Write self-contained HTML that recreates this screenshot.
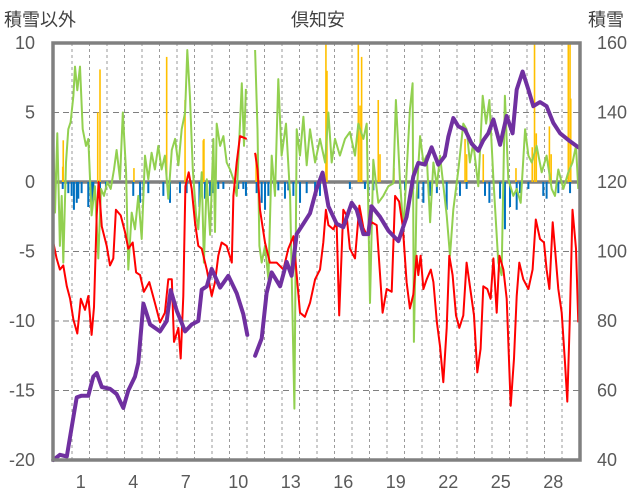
<!DOCTYPE html>
<html><head><meta charset="utf-8">
<style>
html,body{margin:0;padding:0;background:#fff;}
svg{display:block;font-family:"Liberation Sans","Noto Sans CJK JP",sans-serif;}
</style></head>
<body>
<svg id="chart" width="636" height="501" viewBox="0 0 636 501" xmlns="http://www.w3.org/2000/svg">
<text x="4" y="26" font-size="18" fill="#404040">積雪以外</text>
<text x="318" y="26" font-size="18" fill="#404040" text-anchor="middle">倶知安</text>
<text x="588" y="26" font-size="18" fill="#404040">積雪</text>
<g id="grid"></g>
<g id="bars"></g>
<g id="lines"></g>
<rect x="53" y="43" width="527" height="417" fill="none" stroke="#808080" stroke-width="3.5"/>
<g id="axes"></g>
</svg>
<script>
const leftTicks = [10, 5, 0, -5, -10, -15, -20];
const rightTicks = [160, 140, 120, 100, 80, 60, 40];
const dayLabels = [1, 4, 7, 10, 13, 16, 19, 22, 25, 28];

const tempT = [-1.07,-0.88,-0.69,-0.5,-0.3,-0.11,0.08,0.3,0.5,0.74,0.93,1.12,1.26,1.41,1.52,1.7,1.98,2.17,2.36,2.51,2.78,3.03,3.22,3.47,3.66,3.89,4.11,4.42,4.74,5.03,5.31,5.5,5.7,5.83,6.08,6.21,6.36,6.48,6.67,6.84,7.03,7.22,7.41,7.7,7.98,8.17,8.36,8.55,8.84,9.13,9.22,9.41,9.6,9.98,10.2,10.46,10.6,10.74,11.03,11.31,11.69,12.08,12.36,12.65,12.84,13.03,13.31,13.6,13.89,14.17,14.36,14.51,14.65,14.93,15.12,15.27,15.5,15.69,15.88,16.17,16.42,16.65,16.84,17.12,17.41,17.75,17.98,18.27,18.46,18.69,18.9,19.12,19.31,19.5,19.69,19.79,19.92,20.08,20.27,20.5,20.65,20.85,21.03,21.22,21.41,21.56,21.75,21.94,22.13,22.36,22.55,22.78,22.97,23.16,23.35,23.5,23.73,23.92,24.08,24.27,24.42,24.65,24.84,25.07,25.26,25.41,25.56,25.79,26.08,26.32,26.5,26.74,26.97,27.12,27.28,27.47,27.6,27.79,27.98,28.17,28.3,28.46,28.6,28.8,28.93];
const tempV = [-4.35,-5.5,-6.3,-6,-7.5,-8.4,-9.9,-10.9,-8.4,-9.2,-8.2,-11,-9,-2.4,0,-3.2,-4.6,-6,-5.5,-2,-2.4,-3.6,-4.8,-4.35,-6.5,-6.7,-7.9,-7.2,-8.7,-10.1,-9.4,-7,-7,-11.5,-10.5,-12.7,-8.2,-0.3,0.7,-0.5,-2.9,-4.6,-4.8,-6.3,-8.2,-7.2,-5.3,-4.35,-4.6,-5.8,-1,1.4,3.3,3.1,null,2.1,0.9,-2,-4.35,-5.8,-5.8,-6.3,-4.8,-3.9,-6.7,-9.4,-9.7,-8.7,-7,-6.3,-4.35,-2,-3.1,-3.4,-2.9,-9.6,-2,-2.4,-4.8,-5.5,-1.7,-3.3,-3.8,-2.9,-3.1,-9.4,-7.7,-7.9,-1,-1.4,-3.2,-7.2,-9.1,-8.1,-5.3,-6.7,-5.3,-7.7,-7,-6.3,-7.2,-10.1,-11.8,-14.4,-10.5,-5.3,-6.7,-9.6,-10.5,-9.6,-5.8,-7.9,-9.6,-13.7,-12,-7.5,-7.7,-8.4,-5.5,-9.4,-5.3,-6.3,-8.4,-16.1,-12.7,-8.2,-5.8,-7,-7.7,-6.3,-2.7,-4.1,-4.35,-6.3,-7.7,-2.9,-4.8,-7.7,-9.4,-13,-15.8,-9.4,-2,-4.8,-10.1];

const windT = [-1.07,-0.97,-0.84,-0.69,-0.59,-0.5,-0.34,-0.21,-0.08,0.08,0.17,0.3,0.46,0.61,0.8,0.93,1.12,1.31,1.5,1.66,1.83,2.02,2.21,2.4,2.55,2.74,2.9,3.09,3.22,3.41,3.6,3.79,3.98,4.17,4.36,4.55,4.74,4.93,5.12,5.31,5.5,5.7,5.89,6.08,6.27,6.46,6.59,6.74,6.9,7.09,7.22,7.41,7.54,7.7,7.89,8.08,8.17,8.27,8.46,8.65,8.84,9.03,9.22,9.41,9.6,9.7,9.83,9.94,10.2,10.46,10.6,10.71,10.84,11.03,11.22,11.41,11.6,11.79,11.98,12.23,12.46,12.71,12.84,13.03,13.22,13.41,13.6,13.89,14.17,14.46,14.65,14.84,15.03,15.31,15.6,15.88,16.17,16.36,16.65,16.84,17.03,17.22,17.5,17.79,18.08,18.36,18.51,18.74,18.93,19.12,19.31,19.46,19.54,19.69,19.89,20.08,20.27,20.46,20.65,20.85,21.03,21.41,21.6,21.79,22.08,22.36,22.55,22.74,22.93,23.22,23.47,23.66,23.85,24.08,24.36,24.55,24.74,24.93,25.22,25.41,25.64,25.89,26.08,26.27,26.55,26.84,27.12,27.41,27.6,27.79,28.08,28.36,28.6,28.8,28.93];
const windV = [3.3,-2.2,3.5,-4.6,-1,-5.8,1.4,3.8,4.3,6.2,8.3,6.6,8.3,3.8,2.6,3.1,-2.4,-0.3,-5.5,-0.5,-1,0,-0.5,0.9,2.3,0.2,5,0.7,-6.3,-2.2,-3.4,-1,-4.1,1.9,0.2,2.1,0.9,2.6,0.9,1.9,-1.2,2.3,3.1,1.2,3.8,5,9.5,6.2,0.9,-2.4,-3.4,0.7,-5.8,0.2,-3.8,3.1,-3.6,4.2,2.6,3.3,1.4,0.9,0.2,-1,4.2,7.1,2.6,6.7,null,9.5,3.8,-4.6,-5.8,-4.6,-7,1.9,-1,7.4,1.9,4.2,-1,-16.3,3.8,1.9,4.7,1.2,3.8,1.4,3.1,1.4,5,1.4,3.1,1.9,3.1,3.6,1.9,4.2,3.1,4.2,-8.7,1.6,-1.5,-1,-0.3,-0.1,5.9,0.2,-3.4,0.7,5.2,7.1,-11.5,-1,3.3,1.4,1.9,-2.9,1.4,-0.3,1.9,-2.4,-5.3,-2,0.9,4.2,3.8,1.4,2.8,-0.3,6.2,4.2,5.9,0.2,-5.8,-6.7,6.2,0.2,-1,-0.5,-1.5,3.8,1.9,1.4,2.6,0.7,1.9,-0.5,-1,0.9,-0.5,0.7,1.4,2.6,-0.5];

const snowT = [-1.07,-0.69,-0.3,0,0.27,0.55,0.93,1.22,1.41,1.7,2.17,2.55,2.93,3.22,3.6,3.79,4.08,4.46,5.03,5.41,5.64,5.98,6.46,6.84,7.22,7.41,7.7,7.98,8.46,8.93,9.41,9.79,10.02,10.25,10.46,10.84,11.12,11.41,11.89,12.27,12.55,12.84,13.22,13.6,13.98,14.32,14.65,15.12,15.5,15.98,16.27,16.65,16.93,17.12,17.6,18.08,18.65,19.12,19.5,19.79,20.17,20.55,20.93,21.31,21.5,21.79,22.08,22.46,22.84,23.22,23.5,23.79,24.08,24.46,24.84,25.18,25.41,25.75,26.08,26.36,26.74,27.12,27.5,27.89,28.46,28.93];
const snowV = [40,41.5,41,50,58,58.5,58.5,64,65,61,60.5,59,55,60,64,68,85,79,77,80,88.9,83,77,79,80,89,90,95,89.6,93,88,82,76,null,70,75,88,94,90,97,93,105,108,111,118,122.7,113,108,107,114,112,105,105,113,110,106,103,110,121.6,125.5,125,130,125,127.5,133,138.4,136,135,131,129,132,134,138,130.7,139,134,146.6,151.8,146.6,141.8,143,141.8,137,134,131.7,130];

const precipT = [-0.53,-0.5,1.47,1.6,3.54,5.41,6.46,7.5,7.54,10.52,14.51,14.57,16.36,16.46,16.55,17.5,17.6,18.4,22.46,22.55,23.5,25.37,26.3,26.43,26.53,27.28,27.38,28.36,28.46,28.5];
const precipV = [1.1,3,5,8.1,1,9,5.9,3,3.1,2,10,8,10,5.5,9,5.9,2,1,3.1,2,2,1,2.5,10,3.5,4,2,10,10,6];

const negT = [-0.53,-0.21,-0.02,0.11,0.27,0.36,0.55,0.93,1.12,1.22,1.6,1.94,3.5,3.89,4.08,4.36,5.22,5.6,6.17,6.55,7.28,7.6,8.08,7.89,8.36,8.65,9.5,9.79,9.94,10.55,10.84,11.03,11.22,11.79,12.17,12.36,12.65,13.03,13.41,13.89,14.17,15.88,16.74,16.93,17.22,18.74,19.03,19.5,19.79,20.08,20.46,20.85,21.41,22.17,22.55,23.6,23.85,24.46,24.74,25.03,25.41,25.6,26.08,26.93,27.12,27.79,28.46];
const negV = [-0.5,-0.8,-1,-2,-1.5,-1.2,-0.8,-1.8,-2,-1.3,-0.8,-0.5,-1,-1.5,-1,-0.8,-1,-1.5,-0.8,-0.8,-1.8,-1.2,-0.8,-1,-0.5,-0.5,-0.5,-0.5,-1,-0.8,-1.5,-2,-1,-0.6,-1.2,-0.6,-1,-1.5,-0.8,-0.6,-1,-0.5,-0.5,-0.8,-0.6,-0.5,-0.6,-0.5,-1.2,-1.5,-1,-0.8,-2,-1,-0.5,-1,-1.5,-1.2,-3.4,-1.8,-2,-0.8,-0.5,-1,-1.2,-0.8,-0.8];

const NS = 'http://www.w3.org/2000/svg';
const X0 = 53, X1 = 580, Y0 = 43, Y1 = 460;
function xS(t){ return 72 + 17.5 * t; }
function yL(v){ return Y0 + (10 - v) * (Y1 - Y0) / 30; }
function yR(v){ return Y0 + (160 - v) * (Y1 - Y0) / 120; }
function mk(tag, attrs, parent){ const e = document.createElementNS(NS, tag); for (const k in attrs) e.setAttribute(k, attrs[k]); parent.appendChild(e); return e; }

const grid = document.getElementById('grid');
for (let d = 0; d <= 28; d++) {
  const x = xS(d);
  const gl = mk('line', {x1:x, x2:x, y1:Y0, y2:Y1, stroke:'#9a9a9a', 'stroke-width':1, 'stroke-dasharray':'3,3'}, grid);
  
  
}
leftTicks.forEach(v => {
  if (v === 10 || v === -20) return;
  const y = yL(v);
  const hl = mk('line', {x1:X0, x2:X1, y1:y, y2:y, stroke: v===0?'#808080':'#7f7f7f', 'stroke-width': v===0?3.5:1, 'stroke-dasharray': v===0?'none':'6,4'}, grid);
  
  
});

const bars = document.getElementById('bars');
precipT.forEach((t, i) => {
  const y = yL(precipV[i]);
  const r = mk('rect', {x:xS(t)-0.8, y:y, width:1.6, height:yL(0)-y, fill:'#FFC000'}, bars);
  
  
});
negT.forEach((t, i) => {
  const r = mk('rect', {x:xS(t)-1, y:yL(0), width:2, height:yL(negV[i])-yL(0), fill:'#0070C0'}, bars);
  
  
});

function pathFrom(ts, vs, yf){
  let d = '', pen = false;
  ts.forEach((t, i) => {
    if (vs[i] === null) { pen = false; return; }
    d += (pen ? 'L' : 'M') + xS(t).toFixed(1) + ' ' + yf(vs[i]).toFixed(1) + ' ';
    pen = true;
  });
  return d;
}
const lines = document.getElementById('lines');
const gp = mk('path', {d:pathFrom(windT, windV, yL), fill:'none', stroke:'#92D050', 'stroke-width':2, 'stroke-linejoin':'round'}, lines);


const rp = mk('path', {d:pathFrom(tempT, tempV, yL), fill:'none', stroke:'#FF0000', 'stroke-width':2, 'stroke-linejoin':'round'}, lines);


const pp = mk('path', {d:pathFrom(snowT, snowV, yR), fill:'none', stroke:'#7030A0', 'stroke-width':4, 'stroke-linejoin':'round', 'stroke-linecap':'round'}, lines);



const axes = document.getElementById('axes');
leftTicks.forEach(v => {
  const t = mk('text', {x:35, y:yL(v)+6, 'font-size':18, fill:'#595959', 'text-anchor':'end'}, axes);
  t.textContent = v;
  
  
});
rightTicks.forEach(v => {
  const t = mk('text', {x:597, y:yR(v)+6, 'font-size':18, fill:'#595959'}, axes);
  t.textContent = v;
  
  
});
dayLabels.forEach(d => {
  const t = mk('text', {x:xS(d-0.5), y:488, 'font-size':18, fill:'#595959', 'text-anchor':'middle'}, axes);
  t.textContent = d;
  
  
});
</script>
</body></html>
